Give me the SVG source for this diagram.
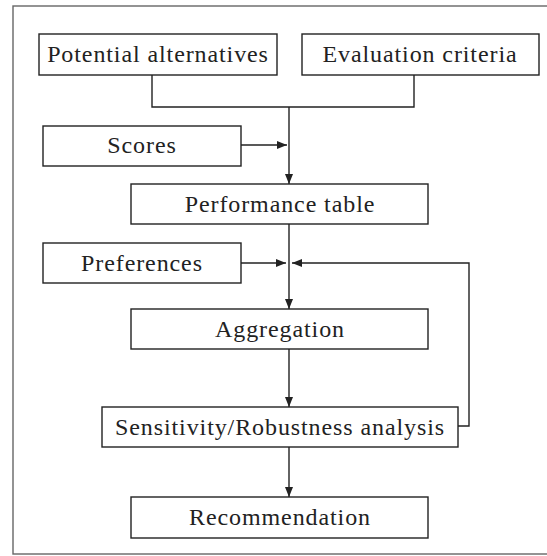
<svg xmlns="http://www.w3.org/2000/svg" width="547" height="556" viewBox="0 0 547 556">
<style>
.box{fill:#fff;stroke:#222;stroke-width:1.4}
.lbl{font-family:"Liberation Serif","Times New Roman",serif;font-size:24px;letter-spacing:0.9px;fill:#222;text-anchor:middle}
.ln{fill:none;stroke:#222;stroke-width:1.4}
</style>
<defs>
<marker id="ah" viewBox="0 0 10 8" refX="10" refY="4" markerWidth="10" markerHeight="8" markerUnits="userSpaceOnUse" orient="auto">
<path d="M0,0 L10,4 L0,8 Z" fill="#222"/>
</marker>
</defs>
<rect x="0" y="0" width="547" height="556" fill="#fff"/>
<rect x="13" y="6" width="545" height="548" fill="none" stroke="#666" stroke-width="1.4"/>
<g id="connectors">
<path class="ln" d="M152,75 V107 H414 V75"/>
<path class="ln" d="M289,107 V184" marker-end="url(#ah)"/>
<path class="ln" d="M241,145 H287" marker-end="url(#ah)"/>
<path class="ln" d="M289,224 V309" marker-end="url(#ah)"/>
<path class="ln" d="M241,263 H286" marker-end="url(#ah)"/>
<path class="ln" d="M458,426 H469 V263 H292" marker-end="url(#ah)"/>
<path class="ln" d="M289,349 V407" marker-end="url(#ah)"/>
<path class="ln" d="M289,447 V497" marker-end="url(#ah)"/>
</g>
<g id="potential-alternatives"><rect class="box" x="39" y="34" width="238" height="41"/><text class="lbl" x="158" y="62">Potential alternatives</text></g>
<g id="evaluation-criteria"><rect class="box" x="302" y="34" width="237" height="41"/><text class="lbl" x="420" y="62">Evaluation criteria</text></g>
<g id="scores"><rect class="box" x="43" y="126" width="198" height="40"/><text class="lbl" x="142" y="153">Scores</text></g>
<g id="performance-table"><rect class="box" x="131" y="184" width="297" height="40"/><text class="lbl" x="280" y="212">Performance table</text></g>
<g id="preferences"><rect class="box" x="43" y="243" width="198" height="40"/><text class="lbl" x="142" y="271">Preferences</text></g>
<g id="aggregation"><rect class="box" x="131" y="309" width="297" height="40"/><text class="lbl" x="280" y="337">Aggregation</text></g>
<g id="sensitivity"><rect class="box" x="102" y="407" width="356" height="40"/><text class="lbl" x="280" y="435">Sensitivity/Robustness analysis</text></g>
<g id="recommendation"><rect class="box" x="131" y="497" width="297" height="41"/><text class="lbl" x="280" y="525">Recommendation</text></g>
</svg>
